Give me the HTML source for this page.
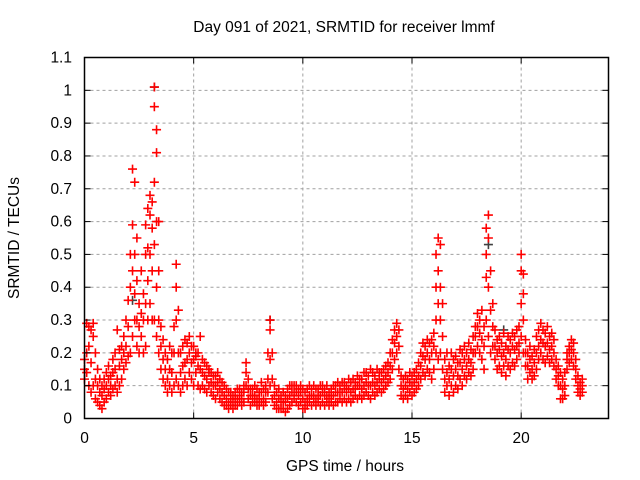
<!DOCTYPE html>
<html><head><meta charset="utf-8"><style>
body{margin:0;background:#fff}
svg{display:block;font-family:"Liberation Sans",sans-serif}
</style></head><body>
<svg id="chart" width="640" height="480" viewBox="0 0 640 480">
<rect width="640" height="480" fill="#fff"/>
<text x="344" y="32" font-size="15.5" text-anchor="middle">Day 091 of 2021, SRMTID for receiver lmmf</text>
<text x="345" y="471" font-size="15.5" text-anchor="middle">GPS time / hours</text>
<text transform="translate(19,238) rotate(-90)" font-size="15.5" text-anchor="middle">SRMTID / TECUs</text>
<g id="grid"></g>
<g id="marks"></g>
<rect x="84.5" y="57.5" width="524" height="361" fill="none" stroke="#000" stroke-width="1.5"/>
<g id="ticks"></g>
</svg>
<script>
const xTicks=[0,5,10,15,20];
const yTicks=[0,0.1,0.2,0.3,0.4,0.5,0.6,0.7,0.8,0.9,1,1.1];
const yTickLabels=["0","0.1","0.2","0.3","0.4","0.5","0.6","0.7","0.8","0.9","1","1.1"];
const tStart=0, tStep=0.1;
const vals=[
[.12,.15,.18],[.14,.2,.29],[.1,.22,.28],[.08,.17,.27],[.1,.25,.29],[.06,.12,.2],[.05,.1,.15],[.04,.08,.12],[.03,.07,.1],[.05,.09,.12],
[.06,.1,.14],[.08,.12,.16],[.07,.1,.13],[.09,.14,.18],[.1,.15,.2],[.08,.12,.27],[.1,.16,.21],[.12,.18,.22],[.15,.2,.25],[.17,.22,.3],
[.19,.28,.36],[.2,.4,.5],[.25,.45,.59,.76],[.3,.38,.5,.72],[.22,.3,.42,.55],[.2,.28,.35],[.25,.32,.45],[.2,.3,.38],[.22,.35,.5,.59],[.3,.42,.52,.64],
[.35,.5,.62,.68],[.3,.45,.58,.66],[.3,.53,.72,.95,1.01],[.25,.4,.6,.81,.88],[.2,.3,.45,.6],[.15,.22,.28],[.12,.18,.24],[.1,.15,.2],[.08,.12,.18],[.1,.15,.22],
[.08,.14,.2],[.1,.2,.28],[.12,.3,.4,.47],[.1,.2,.33],[.08,.14,.2],[.1,.16,.22],[.12,.17,.24],[.1,.18,.23],[.14,.2,.25],[.12,.17,.22],
[.1,.18,.22],[.14,.2,.19],[.1,.16,.2],[.09,.15,.25],[.1,.14,.18],[.09,.13,.17],[.08,.12,.16],[.1,.14,.15],[.08,.11,.14],[.07,.1,.13],
[.06,.1,.13],[.08,.11,.14],[.06,.09,.12],[.05,.08,.11],[.04,.07,.1],[.04,.06,.09],[.03,.05,.08],[.04,.06,.08],[.03,.05,.07],[.04,.06,.08],
[.04,.06,.09],[.05,.07,.09],[.04,.06,.08],[.05,.08,.1],[.1,.14,.17],[.06,.09,.12],[.04,.07,.09],[.05,.07,.09],[.05,.07,.1],[.04,.06,.09],
[.04,.06,.08],[.05,.08,.11],[.04,.06,.09],[.05,.08,.1],[.08,.12,.2],[.1,.18,.27,.3],[.06,.12,.2],[.04,.07,.1],[.03,.05,.08],[.03,.06,.09],
[.03,.05,.07],[.03,.05,.08],[.02,.05,.07],[.03,.06,.09],[.04,.07,.1],[.05,.08,.1],[.06,.08,.1],[.05,.08,.1],[.04,.07,.09],[.05,.08,.1],
[.03,.06,.09],[.03,.05,.08],[.04,.06,.09],[.05,.07,.1],[.04,.07,.09],[.05,.07,.1],[.04,.06,.09],[.05,.07,.09],[.04,.07,.1],[.05,.08,.1],
[.04,.07,.09],[.05,.07,.1],[.04,.06,.08],[.05,.07,.09],[.04,.07,.1],[.05,.08,.1],[.05,.08,.11],[.06,.08,.1],[.05,.08,.11],[.06,.09,.11],
[.05,.08,.1],[.06,.09,.12],[.05,.08,.11],[.06,.09,.12],[.07,.09,.11],[.06,.1,.13],[.07,.1,.12],[.06,.09,.12],[.07,.1,.14],[.08,.11,.14],
[.07,.1,.13],[.06,.1,.15],[.08,.11,.14],[.07,.1,.13],[.08,.11,.15],[.09,.12,.14],[.08,.11,.14],[.09,.12,.15],[.1,.13,.16],[.11,.14,.17],
[.12,.16,.2],[.15,.2,.24],[.18,.23,.27],[.2,.25,.29],[.15,.22,.27],[.07,.1,.13],[.06,.09,.12],[.07,.1,.13],[.06,.09,.12],[.08,.11,.14],
[.07,.1,.13],[.08,.11,.14],[.09,.12,.15],[.1,.13,.17],[.12,.16,.2],[.14,.19,.23],[.13,.18,.22],[.15,.2,.24],[.14,.18,.23],[.12,.2,.24],
[.15,.22,.26],[.2,.3,.4,.5],[.18,.35,.45,.55],[.2,.3,.4,.53],[.15,.25,.35],[.08,.12,.18],[.1,.14,.2],[.07,.12,.16],[.1,.15,.2],[.08,.13,.18],
[.1,.15,.19],[.09,.13,.17],[.12,.17,.21],[.1,.15,.2],[.13,.18,.22],[.12,.16,.2],[.14,.18,.23],[.13,.17,.21],[.15,.2,.25],[.2,.25,.28],
[.22,.28,.32],[.2,.26,.3],[.18,.24,.33],[.15,.22,.28],[.3,.43,.5,.58],[.25,.4,.55,.62],[.2,.33,.45],[.22,.28,.35],[.18,.22,.27],[.15,.2,.24],
[.16,.21,.25],[.14,.19,.23],[.16,.2,.26],[.13,.18,.22],[.16,.21,.25],[.15,.2,.24],[.17,.22,.26],[.16,.21,.25],[.18,.22,.27],[.2,.23,.28],
[.25,.35,.45,.5],[.2,.3,.38,.44],[.16,.2,.24],[.12,.16,.2],[.14,.18,.22],[.12,.15,.19],[.13,.17,.21],[.15,.2,.25],[.18,.22,.27],[.2,.24,.29],
[.18,.23,.27],[.17,.22,.26],[.19,.23,.28],[.17,.21,.25],[.18,.22,.26],[.16,.2,.24],[.12,.15,.18],[.1,.13,.16],[.06,.1,.14],[.06,.09,.12],
[.07,.1,.14],[.15,.18,.2],[.17,.2,.22],[.18,.21,.24],[.16,.2,.23],[.12,.15,.18],[.08,.1,.13],[.07,.09,.11],[.08,.1,.12]
];
const grayT=[2.2,3.2,8.5,18.5,19.2];
const grayV=[0.36,1.01,0.3,0.53,0.27];
const X0=84.5,X1=608.5,Y0=418.5,Y1=57.5,XMAX=24,YMAX=1.1;
const sx=v=>X0+v/XMAX*(X1-X0);
const sy=v=>Y0-v/YMAX*(Y0-Y1);
const NS="http://www.w3.org/2000/svg";
function mk(tag,attrs,parent){const e=document.createElementNS(NS,tag);for(const k in attrs)e.setAttribute(k,attrs[k]);parent.appendChild(e);return e;}
const grid=document.getElementById('grid'),ticks=document.getElementById('ticks'),marks=document.getElementById('marks');
xTicks.forEach(t=>{
  const x=sx(t);
  if(t>0){const g=mk('line',{x1:x,x2:x,y1:Y0,y2:Y1,stroke:'#a0a0a0','stroke-dasharray':'3,3'},grid);
  
  }
  mk('line',{x1:x,x2:x,y1:Y0,y2:Y0-6,stroke:'#000'},ticks);
  mk('line',{x1:x,x2:x,y1:Y1,y2:Y1+6,stroke:'#000'},ticks);
  const l=mk('text',{x:x,y:443,'font-size':15.5,'text-anchor':'middle'},ticks);
  l.textContent=t;
  
  
});
yTicks.forEach((t,i)=>{
  const y=sy(t);
  if(t>0&&t<1.1){const g=mk('line',{x1:X0,x2:X1,y1:y,y2:y,stroke:'#a0a0a0','stroke-dasharray':'3,3'},grid);
  
  }
  mk('line',{x1:X0,x2:X0+6,y1:y,y2:y,stroke:'#000'},ticks);
  mk('line',{x1:X1,x2:X1-6,y1:y,y2:y,stroke:'#000'},ticks);
  const l=mk('text',{x:72,y:y+5,'font-size':15.5,'text-anchor':'end'},ticks);
  l.textContent=yTickLabels[i];
  
  
});
function cross(t,v,col,name){
  const x=sx(t),y=sy(v),h=4.5;
  const p=mk('path',{d:`M${x-h},${y}H${x+h}M${x},${y-h}V${y+h}`,stroke:col,'stroke-width':1.6,fill:'none'},marks);
  
  
}
grayT.forEach((t,i)=>cross(t,grayV[i],'#404040','gray-point'));
vals.forEach((arr,i)=>{const t=tStart+i*tStep;arr.forEach(v=>cross(t,v,'#ff0000','srmtid-point'));});
</script>
</body></html>
